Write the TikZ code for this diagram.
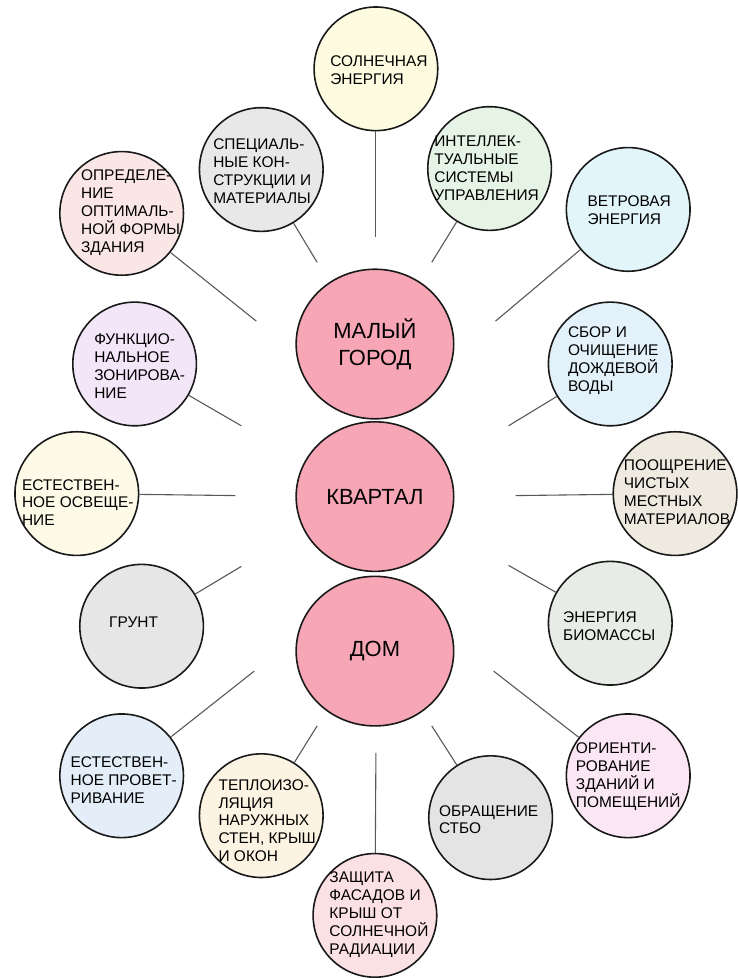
\documentclass[tikz,border=0pt]{standalone}
\usepackage{fontspec}
\setmainfont{Liberation Sans}
\usetikzlibrary{shapes.geometric}
\definecolor{hubpink}{RGB}{246, 166, 180}
\definecolor{solaryellow}{RGB}{253, 251, 224}
\definecolor{specgray}{RGB}{232, 232, 232}
\definecolor{formpink}{RGB}{251, 230, 230}
\definecolor{intelgreen}{RGB}{230, 244, 230}
\definecolor{windcyan}{RGB}{226, 245, 250}
\definecolor{zonelilac}{RGB}{243, 230, 248}
\definecolor{lightcream}{RGB}{253, 251, 232}
\definecolor{soilgray}{RGB}{230, 230, 230}
\definecolor{ventblue}{RGB}{227, 238, 249}
\definecolor{insulcream}{RGB}{252, 243, 227}
\definecolor{shadepink}{RGB}{251, 224, 228}
\definecolor{wastegray}{RGB}{228, 228, 228}
\definecolor{orientpink}{RGB}{251, 230, 243}
\definecolor{rainblue}{RGB}{227, 242, 250}
\definecolor{localbeige}{RGB}{238, 234, 224}
\definecolor{biogray}{RGB}{232, 236, 230}
\tikzset{
    leaf/.style={circle, draw=black!90, line width=1.6pt, minimum size=124pt, inner sep=0pt},
    hub/.style={ellipse, draw=black!90, line width=1.6pt, fill=hubpink, minimum width=158pt,
                minimum height=150pt, inner sep=0pt, align=center, text=black,
                font=\fontsize{22}{27}\selectfont},
    txt/.style={align=left, inner sep=0pt, text=black, font=\fontsize{15.5}{18}\selectfont},
    link/.style={draw=black!65, line width=1.1pt}
}

\begin{document}
\begin{tikzpicture}[x=1pt, y=-1pt]
    % Frame to fix the page:
    \fill[white] (0, 0) rectangle (734, 978);
    % Centre column:
    \node[hub] (city)    at (376, 345) {МАЛЫЙ\\ГОРОД};
    \node[hub] (quarter) at (376, 498) {КВАРТАЛ};
    \node[hub] (house)   at (376, 653) {ДОМ};
    % Outer circles:
    \node[leaf, fill=solaryellow] (sun)    at (377,  69) {};
    \node[leaf, fill=specgray]    (spec)   at (262, 170) {};
    \node[leaf, fill=intelgreen]  (intel)  at (491, 169) {};
    \node[leaf, fill=formpink]    (form)   at (122, 214) {};
    \node[leaf, fill=windcyan]    (wind)   at (630, 210) {};
    \node[leaf, fill=zonelilac]   (zone)   at (135, 365) {};
    \node[leaf, fill=rainblue]    (rain)   at (612, 365) {};
    \node[leaf, fill=lightcream]  (light)  at ( 77, 495) {};
    \node[leaf, fill=localbeige]  (local)  at (677, 495) {};
    \node[leaf, fill=soilgray]    (soil)   at (142, 628) {};
    \node[leaf, fill=biogray]     (bio)    at (612, 625) {};
    \node[leaf, fill=ventblue]    (vent)   at (122, 778) {};
    \node[leaf, fill=orientpink]  (orient) at (630, 778) {};
    \node[leaf, fill=insulcream]  (insul)  at (262, 818) {};
    \node[leaf, fill=wastegray]   (waste)  at (492, 820) {};
    \node[leaf, fill=shadepink]   (shade)  at (376, 918) {};
    % Texts:
    \node[txt] (sun-t)    at (380,  70) {СОЛНЕЧНАЯ\\ЭНЕРГИЯ};
    \node[txt] (spec-t)   at (263, 172) {СПЕЦИАЛЬ-\\НЫЕ КОН-\\СТРУКЦИИ И\\МАТЕРИАЛЫ};
    \node[txt] (intel-t)  at (488, 169) {ИНТЕЛЛЕК-\\ТУАЛЬНЫЕ\\СИСТЕМЫ\\УПРАВЛЕНИЯ};
    \node[txt] (form-t)   at (131, 213) {ОПРЕДЕЛЕ-\\НИЕ\\ОПТИМАЛЬ-\\НОЙ ФОРМЫ\\ЗДАНИЯ};
    \node[txt] (wind-t)   at (631, 211) {ВЕТРОВАЯ\\ЭНЕРГИЯ};
    \node[txt] (zone-t)   at (140, 367) {ФУНКЦИО-\\НАЛЬНОЕ\\ЗОНИРОВА-\\НИЕ};
    \node[txt] (rain-t)   at (615, 362) {СБОР И\\ОЧИЩЕНИЕ\\ДОЖДЕВОЙ\\ВОДЫ};
    \node[txt] (light-t)  at ( 78, 504) {ЕСТЕСТВЕН-\\НОЕ ОСВЕЩЕ-\\НИЕ};
    \node[txt] (local-t)  at (679, 494) {ПООЩРЕНИЕ\\ЧИСТЫХ\\МЕСТНЫХ\\МАТЕРИАЛОВ};
    \node[txt] (soil-t)   at (134, 624) {ГРУНТ};
    \node[txt] (bio-t)    at (611, 628) {ЭНЕРГИЯ\\БИОМАССЫ};
    \node[txt] (vent-t)   at (124, 782) {ЕСТЕСТВЕН-\\НОЕ ПРОВЕТ-\\РИВАНИЕ};
    \node[txt] (orient-t) at (630, 779) {ОРИЕНТИ-\\РОВАНИЕ\\ЗДАНИЙ И\\ПОМЕЩЕНИЙ};
    \node[txt] (insul-t)  at (268, 823) {ТЕПЛОИЗО-\\ЛЯЦИЯ\\НАРУЖНЫХ\\СТЕН, КРЫШ\\И ОКОН};
    \node[txt] (waste-t)  at (490, 822) {ОБРАЩЕНИЕ\\СТБО};
    \node[txt] (shade-t)  at (380, 917) {ЗАЩИТА\\ФАСАДОВ И\\КРЫШ ОТ\\СОЛНЕЧНОЙ\\РАДИАЦИИ};
    % Inner ends of the rays:
    \coordinate (sun-in)    at (377, 238);
    \coordinate (spec-in)   at (318, 263);
    \coordinate (intel-in)  at (433, 263);
    \coordinate (form-in)   at (257, 322);
    \coordinate (wind-in)   at (497, 322);
    \coordinate (zone-in)   at (242, 427);
    \coordinate (rain-in)   at (510, 427);
    \coordinate (light-in)  at (236, 497);
    \coordinate (local-in)  at (517, 497);
    \coordinate (soil-in)   at (242, 568);
    \coordinate (bio-in)    at (510, 567);
    \coordinate (vent-in)   at (255, 673);
    \coordinate (orient-in) at (495, 673);
    \coordinate (insul-in)  at (318, 728);
    \coordinate (waste-in)  at (433, 728);
    \coordinate (shade-in)  at (377, 755);
    % Rays:
    \draw[link] (sun-in)    -- (sun);
    \draw[link] (spec-in)   -- (spec);
    \draw[link] (intel-in)  -- (intel);
    \draw[link] (form-in)   -- (form);
    \draw[link] (wind-in)   -- (wind);
    \draw[link] (zone-in)   -- (zone);
    \draw[link] (rain-in)   -- (rain);
    \draw[link] (light-in)  -- (light);
    \draw[link] (local-in)  -- (local);
    \draw[link] (soil-in)   -- (soil);
    \draw[link] (bio-in)    -- (bio);
    \draw[link] (vent-in)   -- (vent);
    \draw[link] (orient-in) -- (orient);
    \draw[link] (insul-in)  -- (insul);
    \draw[link] (waste-in)  -- (waste);
    \draw[link] (shade-in)  -- (shade);
\end{tikzpicture}
\end{document}
